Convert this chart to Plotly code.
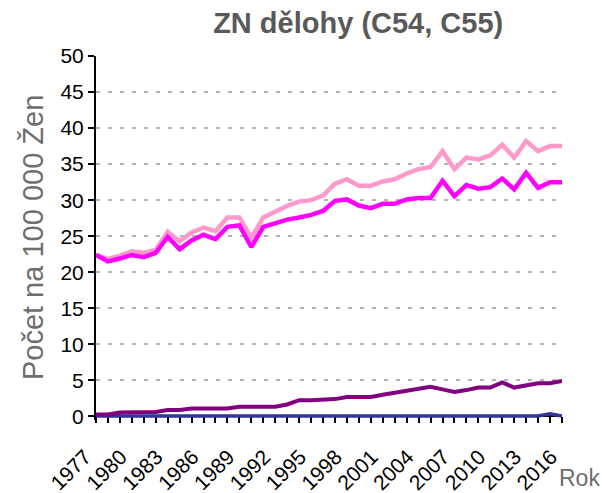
import plotly.graph_objects as go

# Years covered by the series
years = list(range(1977, 2017))

# Rates per 100 000 women
incidence_c54_c55 = [22.4, 21.85, 22.3, 22.9, 22.7, 23.1, 25.6, 24.3, 25.5, 26.2,
                     25.7, 27.6, 27.6, 24.8, 27.6, 28.4, 29.2, 29.8, 30.0, 30.65,
                     32.3, 32.9, 32.0, 32.0, 32.6, 32.9, 33.7, 34.3, 34.6, 36.8,
                     34.3, 35.9, 35.65, 36.2, 37.7, 35.9, 38.2, 36.8, 37.5, 37.5]
incidence_c54 = [22.4, 21.5, 21.9, 22.4, 22.1, 22.7, 24.9, 23.2, 24.4, 25.2,
                 24.6, 26.3, 26.5, 23.5, 26.3, 26.85, 27.3, 27.6, 27.95, 28.5,
                 29.9, 30.1, 29.25, 28.9, 29.5, 29.5, 30.1, 30.3, 30.3, 32.7,
                 30.55, 32.1, 31.6, 31.8, 33.0, 31.5, 33.8, 31.7, 32.5, 32.5]
mortality = [0.25, 0.25, 0.55, 0.55, 0.55, 0.6, 0.9, 0.9, 1.1, 1.1,
             1.1, 1.1, 1.35, 1.35, 1.35, 1.35, 1.65, 2.25, 2.25, 2.3,
             2.4, 2.7, 2.7, 2.7, 3.0, 3.3, 3.55, 3.85, 4.1, 3.75,
             3.4, 3.65, 4.0, 4.0, 4.7, 4.0, 4.35, 4.6, 4.6, 4.9]
other = [0.05] * 38 + [0.35, 0.05]

# Axis ticks: every year, labelled every third year
label_years = list(range(1977, 2017, 3))
tick_text = [str(y) if y in label_years else "" for y in years]
y_ticks = list(range(0, 51, 5))

series = [
    (other, "#333399", 3.5),
    (mortality, "#800080", 4),
    (incidence_c54_c55, "#FF99CC", 4.5),
    (incidence_c54, "#FF00FF", 4.5),
]

fig = go.Figure()
for values, color, width in series:
    fig.add_trace(go.Scatter(x=years, y=values, mode="lines",
                             line=dict(color=color, width=width),
                             showlegend=False, hoverinfo="skip"))

y_min = -0.5
fig.update_layout(
    width=602, height=493,
    margin=dict(l=96, r=40, t=56, b=73, autoexpand=False),
    plot_bgcolor="white", paper_bgcolor="white",
    font=dict(family="Liberation Sans, Arial, sans-serif", color="black"),
    title=dict(text="<b>ZN dělohy (C54, C55)</b>", xref="container", x=0.595,
               xanchor="center", yref="container", y=0.953, yanchor="middle",
               font=dict(size=29, color="#595959")),
    xaxis=dict(range=[1977, 2016], tickmode="array", tickvals=years,
               ticktext=tick_text, tickangle=-45, ticks="outside", ticklen=6,
               tickwidth=2, tickcolor="black", showline=True, linecolor="black",
               linewidth=2, showgrid=False, zeroline=False, anchor="free",
               position=(0 - y_min) / (50 - y_min), layer="below traces",
               ticklabelstandoff=13, ticklabelshift=-11, automargin=False,
               tickfont=dict(size=21, color="black")),
    yaxis=dict(range=[y_min, 50], tickmode="array", tickvals=y_ticks,
               ticks="outside", ticklen=6, tickwidth=2, tickcolor="black",
               showline=True, linecolor="black", linewidth=2,
               showgrid=True, gridcolor="#B4B4B4", gridwidth=2,
               griddash="4px,8px", zeroline=False, layer="below traces",
               automargin=False,
               tickfont=dict(size=21, color="black")),
    annotations=[
        dict(text="Počet na 100 000 Žen", xref="paper", yref="paper",
             x=-0.135, y=0.5, textangle=-90, showarrow=False,
             xanchor="center", yanchor="middle",
             font=dict(size=29, color="#6E6E6E")),
        dict(text="Rok", xref="paper", yref="paper", x=1.085, y=-0.16,
             showarrow=False, xanchor="right", yanchor="middle",
             font=dict(size=23, color="#6E6E6E")),
    ],
)

fig.write_html("out.html")
